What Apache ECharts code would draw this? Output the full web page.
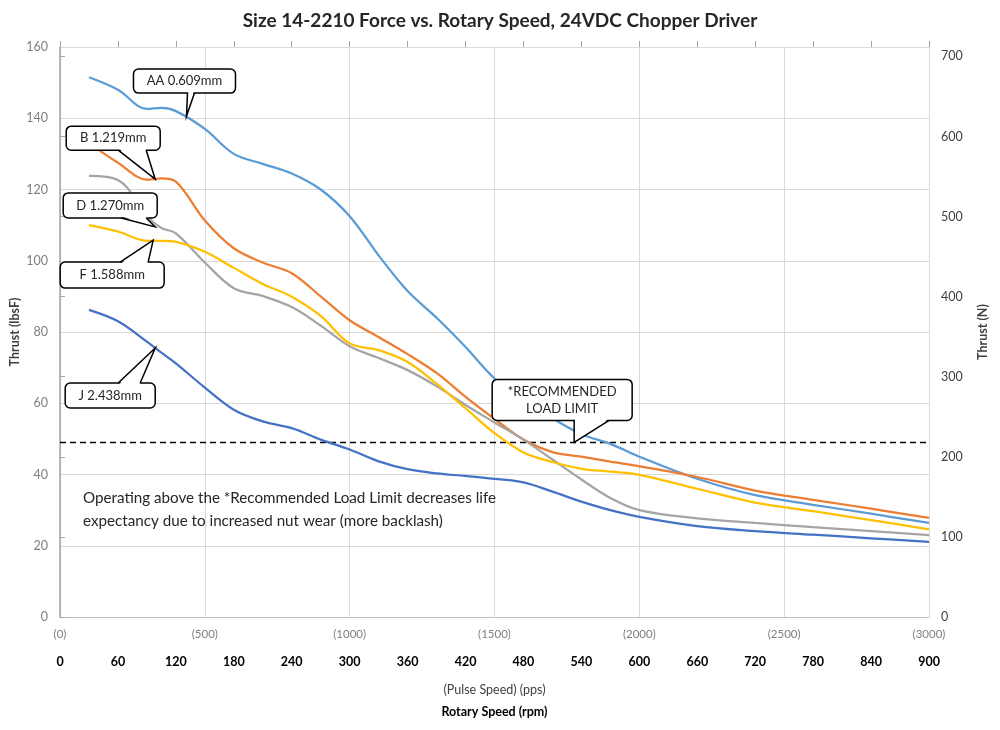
<!DOCTYPE html>
<html>
<head>
<meta charset="utf-8">
<script src="https://cdn.jsdelivr.net/npm/echarts@6/dist/echarts.min.js"></script>
<style>
html,body{margin:0;padding:0;background:#fff;}
#chart{width:1000px;height:730px;}
</style>
</head>
<body>
<div id="chart"></div>
<script>
// ---- data ----
const rpm = [30,60,90,105,120,150,180,210,240,270,300,330,360,390,420,450,480,510,540,570,600,660,720,780,840,900];
const seriesNames = ['AA 0.609mm','B 1.219mm','D 1.270mm','F 1.588mm','J 2.438mm'];
const AA = [151.5,148,142.6,142.9,142,137,130,127.2,124.5,120,112.5,101.5,91.5,84,75.8,67,61.2,55.8,51.3,48.6,45,38.8,34.2,31.5,29.0,26.4];
const B  = [133,127.5,122.8,123.1,122.2,111.3,103.5,99.5,96.5,90,83.3,78.6,73.8,68.5,61.8,55.6,49.8,46.3,45,43.6,42.3,39.3,35.5,32.9,30.4,27.8];
const D  = [123.8,122.7,112.5,109.2,107.7,99.5,92.3,90.1,87,81.8,76,72.7,69.3,64.8,59.5,54.6,49.8,44.2,38.6,33.4,30,27.7,26.4,25.2,24.1,23];
const F  = [110,108.2,105.6,105.6,105.3,102.5,98,93.5,89.9,84.5,76.8,74.9,71.6,65.5,58.6,51.6,46.2,43.5,41.6,40.8,39.9,36,32.1,29.7,27.2,24.6];
const J  = [86.2,83,77.3,74.2,71.2,64.4,58.2,54.9,53,49.8,47,43.7,41.5,40.3,39.6,38.8,37.8,35.2,32.4,30,28.1,25.5,24.1,23.1,22.1,21.1];
const limitRpm = [0, 900];
const limitLbs = [49, 49];
const lbsTicks = [0,20,40,60,80,100,120,140,160];
const newtonTicks = [0,100,200,300,400,500,600,700];
const ppsTicks = [0,500,1000,1500,2000,2500,3000];
const rpmTicks = [0,60,120,180,240,300,360,420,480,540,600,660,720,780,840,900];
const LBF_TO_N = 4.44822;
const colors = ['#5B9BD5','#ED7D31','#A5A5A5','#FFC000','#4472C4'];
const allVals = [AA,B,D,F,J];

const FONT = 'Lato, "Open Sans", sans-serif';
const chart = echarts.init(document.getElementById('chart'), null, {renderer:'canvas'});

const series = allVals.map((vals, k) => ({
  name: seriesNames[k],
  type: 'line',
  xAxisIndex: 0, yAxisIndex: 0,
  data: rpm.map((x, i) => [x, vals[i]]),
  smooth: 0.35,
  symbol: 'none',
  lineStyle: {color: colors[k], width: 2.25},
  z: 3
}));
series.push({
  name: 'limit',
  type: 'line',
  xAxisIndex: 0, yAxisIndex: 0,
  data: limitRpm.map((x, i) => [x, limitLbs[i]]),
  symbol: 'none',
  lineStyle: {color: '#000', width: 1.5, type: [6, 4]},
  z: 2
});

const option = {
  animation: false,
  backgroundColor: '#fff',
  textStyle: {fontFamily: FONT},
  title: {
    text: 'Size 14-2210 Force vs. Rotary Speed, 24VDC Chopper Driver',
    left: 'center', top: 6,
    textStyle: {fontFamily: FONT, fontSize: 19, fontWeight: 'bold', color: '#262626'}
  },
  grid: {left: 60, right: 71, top: 47, bottom: 113, containLabel: false, outerBoundsMode: 'none'},
  xAxis: [
    { // rpm (bold labels)
      type: 'value', position: 'bottom', min: 0, max: rpmTicks[rpmTicks.length-1], interval: 60,
      axisLine: {show: false}, axisTick: {show: false}, splitLine: {show: false},
      axisLabel: {margin: 38, fontFamily: FONT, fontSize: 12.5, fontWeight: 'bold', color: '#000'},
      name: 'Rotary Speed (rpm)', nameLocation: 'middle', nameGap: 88, nameMoveOverlap: false,
      nameTextStyle: {fontFamily: FONT, fontSize: 12.5, fontWeight: 'bold', color: '#000'}
    },
    { // pps
      type: 'value', position: 'bottom', min: 0, max: ppsTicks[ppsTicks.length-1], interval: 500,
      axisLine: {show: true, lineStyle: {color: '#bfbfbf', width: 1}},
      axisTick: {show: false},
      splitLine: {show: true, lineStyle: {color: '#d9d9d9', width: 1}},
      axisLabel: {margin: 11, fontFamily: FONT, fontSize: 11.5, color: '#7f7f7f', formatter: v => '(' + v + ')'},
      name: '(Pulse Speed) (pps)', nameLocation: 'middle', nameGap: 66, nameMoveOverlap: false,
      nameTextStyle: {fontFamily: FONT, fontSize: 12.5, color: '#404040'}
    },
    { // top tick marks (rpm)
      type: 'value', position: 'top', min: 0, max: 900, interval: 60,
      axisLine: {show: false},
      axisTick: {show: true, length: 6, lineStyle: {color: '#a6a6a6'}},
      axisLabel: {show: false}, splitLine: {show: false}
    }
  ],
  yAxis: [
    {
      type: 'value', position: 'left', min: 0, max: lbsTicks[lbsTicks.length-1], interval: 20,
      axisLine: {show: true, lineStyle: {color: '#bfbfbf'}},
      axisTick: {show: false},
      splitLine: {show: true, lineStyle: {color: '#d9d9d9', width: 1}},
      axisLabel: {margin: 12, fontFamily: FONT, fontSize: 12.5, color: '#7f7f7f'},
      name: 'Thrust (lbsF)', nameLocation: 'middle', nameGap: 39, nameRotate: 90, nameMoveOverlap: false,
      nameTextStyle: {fontFamily: FONT, fontSize: 12.5, fontWeight: 'bold', color: '#404040'}
    },
    {
      type: 'value', position: 'right', min: 0, max: lbsTicks[lbsTicks.length-1] * LBF_TO_N, interval: 100,
      axisLine: {show: true, lineStyle: {color: '#a6a6a6', width: 1.5}},
      axisTick: {show: true, inside: false, length: 5, lineStyle: {color: '#a6a6a6'}, customValues: newtonTicks},
      splitLine: {show: false},
      axisLabel: {margin: 12, fontFamily: FONT, fontSize: 12.5, color: '#404040', customValues: newtonTicks,
        formatter: v => (Math.abs(v % 100) < 1e-6 ? String(v) : '')},
      name: 'Thrust (N)', nameLocation: 'middle', nameGap: 47, nameRotate: 90, nameMoveOverlap: false,
      nameTextStyle: {fontFamily: FONT, fontSize: 12.5, fontWeight: 'bold', color: '#404040'}
    }
  ],
  series: series
};
chart.setOption(option);

// ---- callouts (tip anchored in data space, box offset in px) ----
const callouts = [
  {text: ['AA 0.609mm'], tip: [131, 140.6], box: [-53, -47, 102, 24], base: [1, 8], side: 'bottom'},
  {text: ['B 1.219mm'], tip: [98.6, 122.9], box: [-89, -53, 94, 24], base: [-37, -9], side: 'bottom'},
  {text: ['D 1.270mm'], tip: [98.6, 109.5], box: [-92, -34, 94, 25], base: [-34, -9], side: 'bottom'},
  {text: ['F 1.588mm'], tip: [96.5, 105.8], box: [-93, 22, 104, 26], base: [-33, -5], side: 'top'},
  {text: ['J 2.438mm'], tip: [98.6, 75.5], box: [-90, 35, 90, 25], base: [-37, -15], side: 'top'},
  {text: ['*RECOMMENDED', 'LOAD LIMIT'], tip: [532.5, 49], box: [-82, -63, 140, 41], base: [0, 35], side: 'bottom'}
];
const graphics = [];
callouts.forEach(c => {
  const p = chart.convertToPixel({xAxisIndex: 0, yAxisIndex: 0}, c.tip);
  const tx = p[0], ty = p[1];
  const bx = tx + c.box[0], by = ty + c.box[1], bw = c.box[2], bh = c.box[3];
  const edgeY = c.side === 'bottom' ? by + bh : by;
  const inner = c.side === 'bottom' ? edgeY - 1.5 : edgeY + 1.5;
  const b1 = [tx + c.base[0], edgeY], b2 = [tx + c.base[1], edgeY];
  graphics.push({type: 'rect', z: 100, shape: {x: bx, y: by, width: bw, height: bh, r: 5},
    style: {fill: '#fff', stroke: '#000', lineWidth: 1.5}});
  graphics.push({type: 'polygon', z: 101, shape: {points: [[b1[0]+0.8, inner], [b2[0]-0.8, inner], [tx, ty]]},
    style: {fill: '#fff', stroke: null}});
  graphics.push({type: 'polyline', z: 102, shape: {points: [b1, [tx, ty], b2]},
    style: {stroke: '#000', lineWidth: 1.5, fill: null}});
  const lh = 17;
  c.text.forEach((t, i) => {
    const cy = by + bh / 2 + (i - (c.text.length - 1) / 2) * lh;
    graphics.push({type: 'text', z: 103, x: bx + bw / 2, y: cy,
      style: {text: t, fill: '#262626', font: '13px ' + FONT, textAlign: 'center', textVerticalAlign: 'middle'}});
  });
});
// explanatory note
graphics.push({type: 'text', z: 50, left: 83, top: 487,
  style: {text: 'Operating above the *Recommended Load Limit decreases life\nexpectancy due to increased nut wear (more backlash)',
    fill: '#262626', font: '15.2px ' + FONT, lineHeight: 23}});
chart.setOption({graphic: graphics});
</script>
</body>
</html>
